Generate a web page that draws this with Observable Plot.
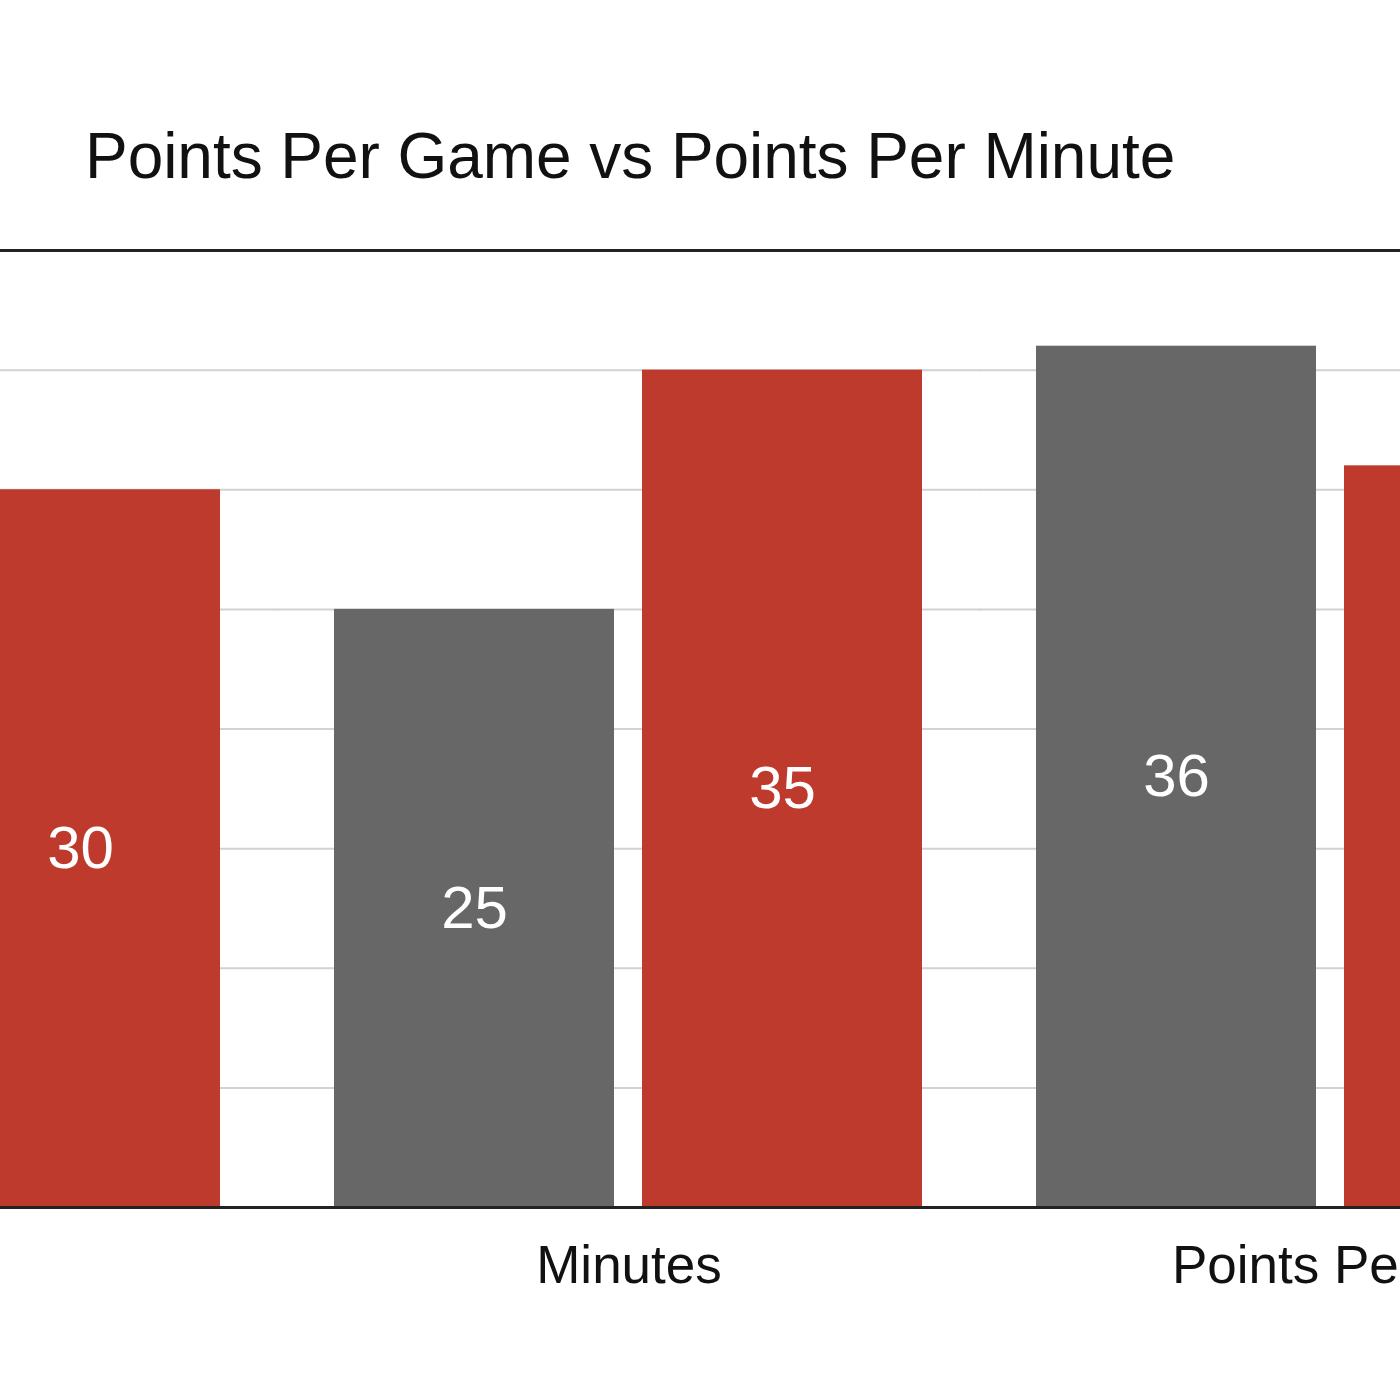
<!DOCTYPE html>
<html>
<head>
<meta charset="utf-8">
<script src="https://cdn.jsdelivr.net/npm/d3@7"></script>
<script src="https://cdn.jsdelivr.net/npm/@observablehq/plot@0.6"></script>
<style>
  html, body { margin: 0; padding: 0; background: #fff; }
  #wrap { position: relative; width: 1400px; height: 1400px; overflow: hidden; background: #fff; }
  #title { position: absolute; left: 85px; top: 124px; font-family: "Liberation Sans", Arial, sans-serif;
           font-size: 64px; line-height: 64px; color: #111; white-space: nowrap; letter-spacing: -0.05px; }
  #chart { position: absolute; left: -500px; top: 240px; width: 2125px; }
  #chart svg { max-width: none !important; }
</style>
</head>
<body>
<div id="wrap">
  <div id="title">Points Per Game vs Points Per Minute</div>
  <div id="chart"></div>
</div>
<script>
// Data
const groups = ["Points", "Minutes", "Points Per 36"];
const seriesNames = ["Player A", "Player B"];
const grayValues = [25, 25, 36];
const redValues = [30, 35, 31];
const gridTicks = [5, 10, 15, 20, 25, 30, 35];
const frameTicks = [0, 40];

const data = groups.flatMap((g, i) => [
  {group: g, series: seriesNames[0], value: grayValues[i]},
  {group: g, series: seriesNames[1], value: redValues[i]}
]);

const font = "'Liberation Sans', Arial, sans-serif";

const chart = Plot.plot({
  width: 2125,
  height: 1160,
  marginTop: 10,
  marginBottom: 193,
  marginLeft: 132,
  marginRight: 0,
  style: {fontFamily: font, fontSize: "53px", color: "#111", background: "transparent", overflow: "visible", maxWidth: "none"},
  facet: {marginTop: 0, marginBottom: 0, marginLeft: 0, marginRight: 0},
  fx: {domain: groups, paddingInner: 0.161, paddingOuter: 0, axis: null, label: null},
  x: {domain: seriesNames, paddingInner: 28 / 308.5, paddingOuter: 0, axis: null, label: null},
  y: {domain: [0, 40], axis: null, label: null},
  color: {domain: seriesNames, range: ["#676767", "#be3a2c"]},
  marks: [
    Plot.ruleY(gridTicks, {stroke: "#d2d2d2", strokeWidth: 2, insetLeft: -57, insetRight: -57}),
    Plot.barY(data, {fx: "group", x: "series", y: "value", fill: "series"}),
    Plot.text(data, {fx: "group", x: "series", y: d => d.value / 2, text: d => String(d.value),
                     fill: "white", fontSize: 60, fontFamily: font}),
    Plot.ruleY(frameTicks, {stroke: "#222", strokeWidth: 3, insetLeft: -57, insetRight: -57}),
    Plot.text(groups, {fx: d => d, text: d => d, frameAnchor: "bottom", lineAnchor: "top", dy: 38,
                       fill: "#111", fontSize: 53, fontFamily: font})
  ]
});
document.getElementById("chart").appendChild(chart);
</script>
</body>
</html>
